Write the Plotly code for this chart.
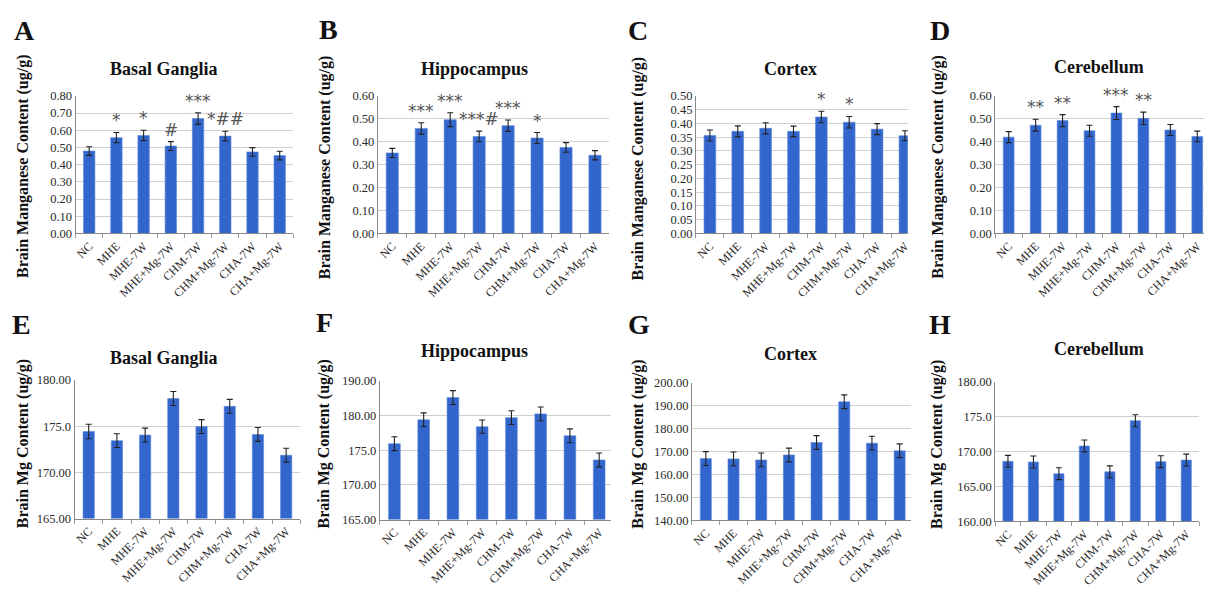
import plotly.graph_objects as go

categories = ["NC", "MHE", "MHE-7W", "MHE+Mg-7W", "CHM-7W", "CHM+Mg-7W", "CHA-7W", "CHA+Mg-7W"]

# Manganese (ug/g)
mn_basal = [0.479, 0.557, 0.570, 0.508, 0.668, 0.566, 0.474, 0.453]
mn_basal_err = [0.025, 0.030, 0.030, 0.026, 0.034, 0.028, 0.025, 0.025]
mn_basal_sig = ["", "*", "*", "#", "***", "*##", "", ""]

mn_hippo = [0.351, 0.458, 0.496, 0.423, 0.470, 0.416, 0.375, 0.341]
mn_hippo_err = [0.020, 0.025, 0.030, 0.023, 0.025, 0.024, 0.021, 0.020]
mn_hippo_sig = ["", "***", "***", "***#", "***", "*", "", ""]

mn_cortex = [0.356, 0.371, 0.382, 0.371, 0.423, 0.404, 0.379, 0.355]
mn_cortex_err = [0.020, 0.020, 0.020, 0.019, 0.021, 0.021, 0.020, 0.018]
mn_cortex_sig = ["", "", "", "", "*", "*", "", ""]

mn_cereb = [0.420, 0.472, 0.492, 0.448, 0.525, 0.502, 0.451, 0.423]
mn_cereb_err = [0.024, 0.026, 0.026, 0.024, 0.028, 0.027, 0.024, 0.023]
mn_cereb_sig = ["", "**", "**", "", "***", "**", "", ""]

# Magnesium (ug/g)
mg_basal = [174.42, 173.43, 174.03, 177.99, 174.95, 177.14, 174.10, 171.85]
mg_basal_err = [0.78, 0.75, 0.75, 0.75, 0.75, 0.75, 0.75, 0.75]

mg_hippo = [175.94, 179.39, 182.60, 178.40, 179.70, 180.24, 177.08, 173.60]
mg_hippo_err = [1.0, 1.0, 1.0, 0.95, 1.0, 1.0, 1.0, 1.0]

mg_cortex = [167.0, 166.85, 166.4, 168.56, 174.0, 191.75, 173.7, 170.4]
mg_cortex_err = [3.0, 3.0, 3.0, 3.0, 3.0, 3.0, 3.0, 3.0]

mg_cereb = [168.62, 168.52, 166.84, 170.82, 167.12, 174.43, 168.57, 168.80]
mg_cereb_err = [0.85, 0.85, 0.85, 0.85, 0.85, 0.85, 0.85, 0.85]

W, H = 1208, 589
BAR = "#3366CC"
SERIF = "Liberation Serif, Times New Roman, Tinos, serif"

panels = [
    dict(letter="A", title="Basal Ganglia", v=mn_basal, e=mn_basal_err, sig=mn_basal_sig,
         dom=(73, 292, 91, 232), xr=[-0.5, 7.5], yr=[0, 0.8], tv=[i / 10 for i in range(9)],
         tt=["%.2f" % (i / 10) for i in range(9)], tp=(162, 63), lp=(22, 24), yl=(20, 163),
         ylab="Brain Manganese Content (ug/g)", bw=0.42),
    dict(letter="B", title="Hippocampus", v=mn_hippo, e=mn_hippo_err, sig=mn_hippo_sig,
         dom=(377, 610, 91, 232), xr=[-0.5, 7.5], yr=[0, 0.6], tv=[i / 10 for i in range(7)],
         tt=["%.2f" % (i / 10) for i in range(7)], tp=(474, 64), lp=(327, 23), yl=(324, 164),
         ylab="Brain Manganese Content (ug/g)", bw=0.42),
    dict(letter="C", title="Cortex", v=mn_cortex, e=mn_cortex_err, sig=mn_cortex_sig,
         dom=(697, 910, 91, 232), xr=[-0.5, 7.1], yr=[0, 0.5], tv=[i * 0.05 for i in range(11)],
         tt=["%.2f" % (i * 0.05) for i in range(11)], tp=(792, 64), lp=(639, 24), yl=(639, 165),
         ylab="Brain Manganese Content (ug/g)", bw=0.42),
    dict(letter="D", title="Cerebellum", v=mn_cereb, e=mn_cereb_err, sig=mn_cereb_sig,
         dom=(998, 1208, 91, 232), xr=[-0.5, 7.25], yr=[0, 0.6], tv=[i / 10 for i in range(7)],
         tt=["%.2f" % (i / 10) for i in range(7)], tp=(1102, 61), lp=(942, 24), yl=(941, 164),
         ylab="Brain Manganese Content (ug/g)", bw=0.4),
    dict(letter="E", title="Basal Ganglia", v=mg_basal, e=mg_basal_err, sig=None,
         dom=(72, 299, 382, 524), xr=[-0.5, 7.5], yr=[165, 180], tv=[165, 170, 175, 180],
         tt=["165.00", "170.00", "175.0", "180.00"], tp=(162, 360), lp=(19, 325), yl=(20, 447),
         ylab="Brain Mg Content (ug/g)", bw=0.4),
    dict(letter="F", title="Hippocampus", v=mg_hippo, e=mg_hippo_err, sig=None,
         dom=(379, 612, 383, 525), xr=[-0.5, 7.42], yr=[165, 185], tv=[165, 170, 175, 180, 185],
         tt=["165.00", "170.00", "175.0", "180.00", "190.00"], tp=(474, 352), lp=(323, 323), yl=(323, 448),
         ylab="Brain Mg Content (ug/g)", bw=0.4),
    dict(letter="G", title="Cortex", v=mg_cortex, e=mg_cortex_err, sig=None,
         dom=(693, 913, 385, 526), xr=[-0.5, 7.4], yr=[140, 200], tv=list(range(140, 201, 10)),
         tt=["%d.00" % t for t in range(140, 201, 10)], tp=(792, 355), lp=(640, 325), yl=(639, 448),
         ylab="Brain Mg Content (ug/g)", bw=0.4),
    dict(letter="H", title="Cerebellum", v=mg_cereb, e=mg_cereb_err, sig=None,
         dom=(998, 1203, 384, 527), xr=[-0.5, 7.5], yr=[160, 180], tv=[160, 165, 170, 175, 180],
         tt=["160.00", "165.00", "170.00", "175.0", "180.00"], tp=(1102, 350), lp=(942, 325), yl=(940, 448),
         ylab="Brain Mg Content (ug/g)", bw=0.4),
]

fig = go.Figure()
annotations = []
layout = {}

for i, p in enumerate(panels):
    n = i + 1
    xa = "x" if n == 1 else "x%d" % n
    ya = "y" if n == 1 else "y%d" % n
    xkey = "xaxis" if n == 1 else "xaxis%d" % n
    ykey = "yaxis" if n == 1 else "yaxis%d" % n
    x0, x1, y0, y1 = p["dom"]
    fig.add_trace(go.Bar(
        x=categories, y=p["v"], xaxis=xa, yaxis=ya,
        marker=dict(color=BAR, line=dict(color="#5a86d8", width=0.6)),
        error_y=dict(type="data", array=p["e"], visible=True, color="#222222", thickness=1.1, width=3),
        showlegend=False, width=p["bw"], cliponaxis=False,
    ))
    layout[xkey] = dict(
        domain=[x0 / W, x1 / W], anchor=ya, type="category", range=p["xr"],
        tickangle=-45, ticks="outside", tickson="boundaries", ticklen=4,
        tickcolor="#999999", showline=True, linecolor="#888888", linewidth=1,
        tickfont=dict(family=SERIF, size=12, color="#2a2a2a"), showgrid=False,
    )
    layout[ykey] = dict(
        domain=[1 - y1 / H, 1 - y0 / H], anchor=xa, range=p["yr"],
        tickvals=p["tv"], ticktext=p["tt"], showline=True, linecolor="#888888", linewidth=1,
        showgrid=True, gridcolor="#d0d0d0", gridwidth=1, zeroline=False,
        ticks="", tickfont=dict(family=SERIF, size=12.5, color="#2a2a2a"),
    )
    annotations.append(dict(text="<b>%s</b>" % p["title"], x=p["tp"][0] / W, y=1 - p["tp"][1] / H,
                            xref="paper", yref="paper", showarrow=False, xanchor="center", yanchor="middle",
                            font=dict(family=SERIF, size=18, color="#111111")))
    annotations.append(dict(text="<b>%s</b>" % p["letter"], x=p["lp"][0] / W, y=1 - p["lp"][1] / H,
                            xref="paper", yref="paper", showarrow=False, xanchor="center", yanchor="middle",
                            font=dict(family=SERIF, size=28, color="#111111")))
    annotations.append(dict(text="<b>%s</b>" % p["ylab"], x=p["yl"][0] / W, y=1 - p["yl"][1] / H,
                            xref="paper", yref="paper", showarrow=False, xanchor="center", yanchor="middle",
                            textangle=-90, font=dict(family=SERIF, size=16, color="#111111")))
    if p["sig"]:
        for c, v, e, s in zip(categories, p["v"], p["e"], p["sig"]):
            if s:
                annotations.append(dict(text=s, x=c, y=v + e, xref=xa, yref=ya, showarrow=False,
                                        xanchor="center", yanchor="bottom", yshift=0,
                                        font=dict(family="DejaVu Sans", size=17, color="#555555")))

fig.update_layout(
    width=W, height=H, margin=dict(l=0, r=0, t=0, b=0),
    paper_bgcolor="white", plot_bgcolor="white",
    annotations=annotations, **layout,
)

fig.write_html(
    "out.html",
    config={"displayModeBar": False},
    post_script=(
        "document.documentElement.style.margin='0';document.body.style.margin='0';"
        "document.body.style.overflow='hidden';"
        "var d=document.getElementById('{plot_id}');"
        "d.style.position='absolute';d.style.left='0px';d.style.top='0px';"
    ),
)
